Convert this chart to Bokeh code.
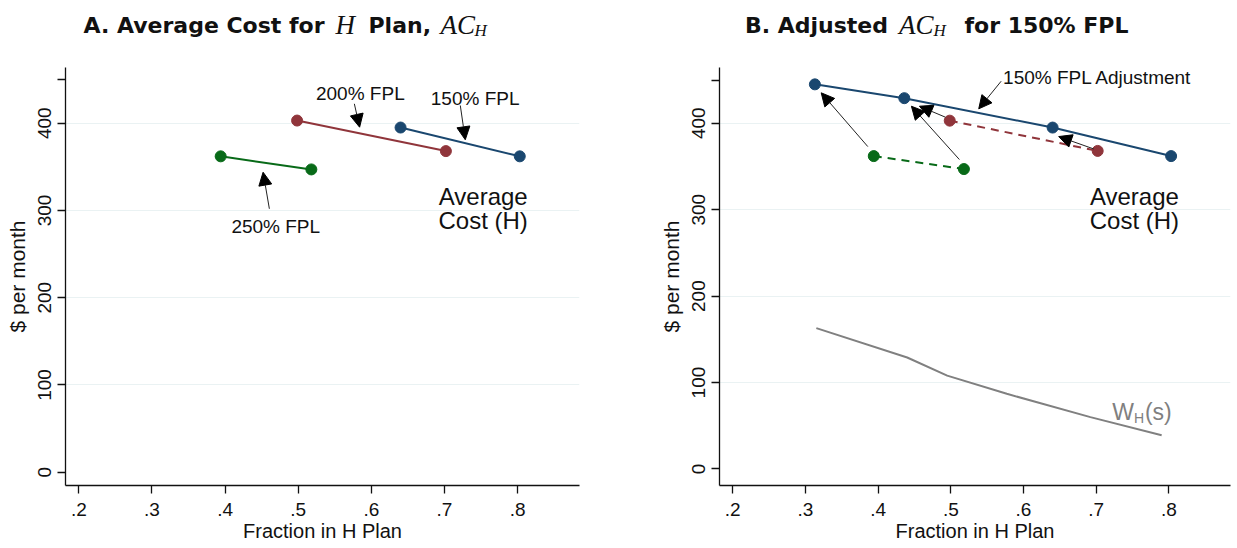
import math
from bokeh.plotting import figure
from bokeh.layouts import row, column
from bokeh.models import Arrow, NormalHead, Label, FixedTicker, Range1d, CustomJSTickFormatter
from bokeh.embed import file_html
from bokeh.resources import INLINE

# ---------------- data ----------------
# Panel A: average cost of H plan by income group
fpl150_x = [0.640, 0.803]
fpl150_y = [395, 362]
fpl200_x = [0.4985, 0.702]
fpl200_y = [403, 368]
fpl250_x = [0.394, 0.518]
fpl250_y = [362, 347]
# Panel B: 150% FPL adjusted average cost and W_H(s)
adj_x = [0.313, 0.436, 0.640, 0.803]
adj_y = [445, 429, 395, 362]
wh_x = [0.315, 0.44, 0.495, 0.577, 0.692, 0.79]
wh_y = [163, 129, 108, 87, 60, 39]

x_ticks = [0.2, 0.3, 0.4, 0.5, 0.6, 0.7, 0.8]
x_tick_labels = [".2", ".3", ".4", ".5", ".6", ".7", ".8"]
y_ticks = [0, 100, 200, 300, 400, 450]
y_tick_labels = ["0", "100", "200", "300", "400", ""]
grid_ticks = [100, 200, 300, 400]

NAVY = "#1a476f"
MAROON = "#90353b"
GREEN = "#086a18"
GRAY = "#808080"
FONT = "Liberation Sans"
SERIF = "Liberation Serif"
TFONT = "DejaVu Sans"
TITLE_H = 45

FMT_CODE = """
let best = 0; let d = Infinity;
for (let i = 0; i < tvals.length; i++) {
  const e = Math.abs(tvals[i] - tick);
  if (e < d) { d = e; best = i; }
}
return tlabels[best];
"""


def make_fig(width, bl, br, y_range):
    p = figure(width=width, height=548 - TITLE_H, x_range=Range1d(0.1818, 0.8847),
               y_range=Range1d(*y_range), output_backend="svg", toolbar_location=None,
               min_border_left=bl, min_border_right=br, min_border_top=67 - TITLE_H,
               min_border_bottom=63)
    p.outline_line_color = None
    p.background_fill_color = "white"
    p.border_fill_color = "white"
    p.xgrid.visible = False
    p.ygrid.ticker = FixedTicker(ticks=grid_ticks)
    p.ygrid.grid_line_color = "#eaf2f3"
    p.ygrid.grid_line_width = 1

    p.xaxis.ticker = FixedTicker(ticks=x_ticks)
    p.xaxis.formatter = CustomJSTickFormatter(args=dict(tvals=x_ticks, tlabels=x_tick_labels), code=FMT_CODE)
    p.yaxis.ticker = FixedTicker(ticks=y_ticks)
    p.yaxis.formatter = CustomJSTickFormatter(args=dict(tvals=y_ticks, tlabels=y_tick_labels), code=FMT_CODE)
    p.yaxis.major_label_orientation = "vertical"
    for ax in (p.xaxis, p.yaxis):
        ax.axis_line_color = "#111111"
        ax.axis_line_width = 1.3
        ax.major_tick_line_color = "#111111"
        ax.major_tick_line_width = 1.3
        ax.major_tick_out = 8
        ax.major_tick_in = 0
        ax.minor_tick_out = 0
        ax.minor_tick_in = 0
        ax.major_label_text_font = FONT
        ax.major_label_text_font_size = "19px"
        ax.major_label_text_color = "#111111"
        ax.axis_label_text_font = FONT
        ax.axis_label_text_font_size = "20px"
        ax.axis_label_text_font_style = "normal"
        ax.axis_label_text_color = "#111111"
    p.xaxis.axis_label = "Fraction in H Plan"
    p.xaxis.major_label_standoff = 9
    p.xaxis.axis_label_standoff = 1
    p.yaxis.axis_label = "$ per month"
    p.yaxis.axis_label_text_font_size = "21px"
    p.yaxis.major_label_standoff = 6
    p.yaxis.axis_label_standoff = 7
    return p


def txt(p, x, y, s, size="19px", align="center", baseline="middle", color="#111111",
        font=FONT, style="normal"):
    p.add_layout(Label(x=x, y=y, text=s, text_font=font, text_font_size=size,
                       text_align=align, text_baseline=baseline, text_color=color,
                       text_font_style=style))


def arrow(p, x0, y0, x1, y1):
    p.add_layout(Arrow(end=NormalHead(size=13, fill_color="black", line_color="black", line_width=1),
                       x_start=x0, y_start=y0, x_end=x1, y_end=y1,
                       line_color="#222222", line_width=1))


# ---------------- title strip ----------------
pt = figure(width=1237, height=TITLE_H, x_range=Range1d(0, 1237), y_range=Range1d(0, TITLE_H),
            output_backend="svg", toolbar_location=None, x_axis_location=None,
            y_axis_location=None, min_border=0)
pt.outline_line_color = None
pt.grid.visible = False
pt.border_fill_color = "white"
TS = "22px"
MS = "27px"
SS = "17px"
# A. Average Cost for H Plan, AC_H
txt(pt, 83, 20.5, "A. Average Cost for", size=TS, align="left", baseline="alphabetic", style="bold", font=TFONT)
txt(pt, 335, 20.5, "H", size=MS, align="left", baseline="alphabetic", font=SERIF, style="italic")
txt(pt, 368, 20.5, "Plan,", size=TS, align="left", baseline="alphabetic", style="bold", font=TFONT)
txt(pt, 440, 20.5, "AC", size=MS, align="left", baseline="alphabetic", font=SERIF, style="italic")
txt(pt, 474, 15.4, "H", size=SS, align="left", baseline="alphabetic", font=SERIF, style="italic")
# B. Adjusted AC_H for 150% FPL
txt(pt, 744.5, 20.5, "B. Adjusted", size=TS, align="left", baseline="alphabetic", style="bold", font=TFONT)
txt(pt, 898.5, 20.5, "AC", size=MS, align="left", baseline="alphabetic", font=SERIF, style="italic")
txt(pt, 933, 15.4, "H", size=SS, align="left", baseline="alphabetic", font=SERIF, style="italic")
txt(pt, 964, 20.5, "for 150% FPL", size=TS, align="left", baseline="alphabetic", style="bold", font=TFONT)

# ---------------- Panel A ----------------
pa = make_fig(640, 65, 61, (-15.2, 463.8))
for xs, ys, c in ((fpl150_x, fpl150_y, NAVY), (fpl200_x, fpl200_y, MAROON), (fpl250_x, fpl250_y, GREEN)):
    pa.line(xs, ys, line_color=c, line_width=2)
    pa.scatter(xs, ys, size=11, fill_color=c, line_color=c)

txt(pa, 0.585, 434.4, "200% FPL")
txt(pa, 0.742, 428, "150% FPL")
txt(pa, 0.4693, 282, "250% FPL")
arrow(pa, 0.5768, 422.2, 0.584, 395.4)
arrow(pa, 0.7217, 420.3, 0.7285, 381)
arrow(pa, 0.4606, 301.9, 0.452, 343.8)
txt(pa, 0.753, 316, "Average", size="24px")
txt(pa, 0.753, 288.5, "Cost (H)", size="24px")

# ---------------- Panel B ----------------
pb = make_fig(597, 79, 7, (-19.1, 464.5))
pb.line(wh_x, wh_y, line_color=GRAY, line_width=2)
pb.line(fpl200_x, fpl200_y, line_color=MAROON, line_width=2, line_dash="8 6")
pb.scatter(fpl200_x, fpl200_y, size=11, fill_color=MAROON, line_color=MAROON)
pb.line(fpl250_x, fpl250_y, line_color=GREEN, line_width=2, line_dash="8 6")
pb.scatter(fpl250_x, fpl250_y, size=11, fill_color=GREEN, line_color=GREEN)
pb.line(adj_x, adj_y, line_color=NAVY, line_width=2)
pb.scatter(adj_x, adj_y, size=11, fill_color=NAVY, line_color=NAVY)

txt(pb, 0.5719, 452.6, "150% FPL Adjustment", align="left")
arrow(pb, 0.5692, 448.6, 0.5384, 416.7)
arrow(pb, 0.3858, 373, 0.3217, 435.2)
arrow(pb, 0.5118, 358, 0.4458, 419.7)
arrow(pb, 0.4926, 407, 0.4568, 419.7)
arrow(pb, 0.6965, 370.3, 0.6484, 384.6)
txt(pb, 0.7525, 315, "Average", size="24px")
txt(pb, 0.7525, 287, "Cost (H)", size="24px")
txt(pb, 0.722, 66, "W", size="23px", align="left", baseline="alphabetic", color=GRAY)
txt(pb, 0.752, 59.5, "H", size="14px", align="left", baseline="alphabetic", color=GRAY)
txt(pb, 0.767, 66, "(s)", size="23px", align="left", baseline="alphabetic", color=GRAY)

layout = column(pt, row(pa, pb))
open("out.html", "w").write(file_html(layout, INLINE))
